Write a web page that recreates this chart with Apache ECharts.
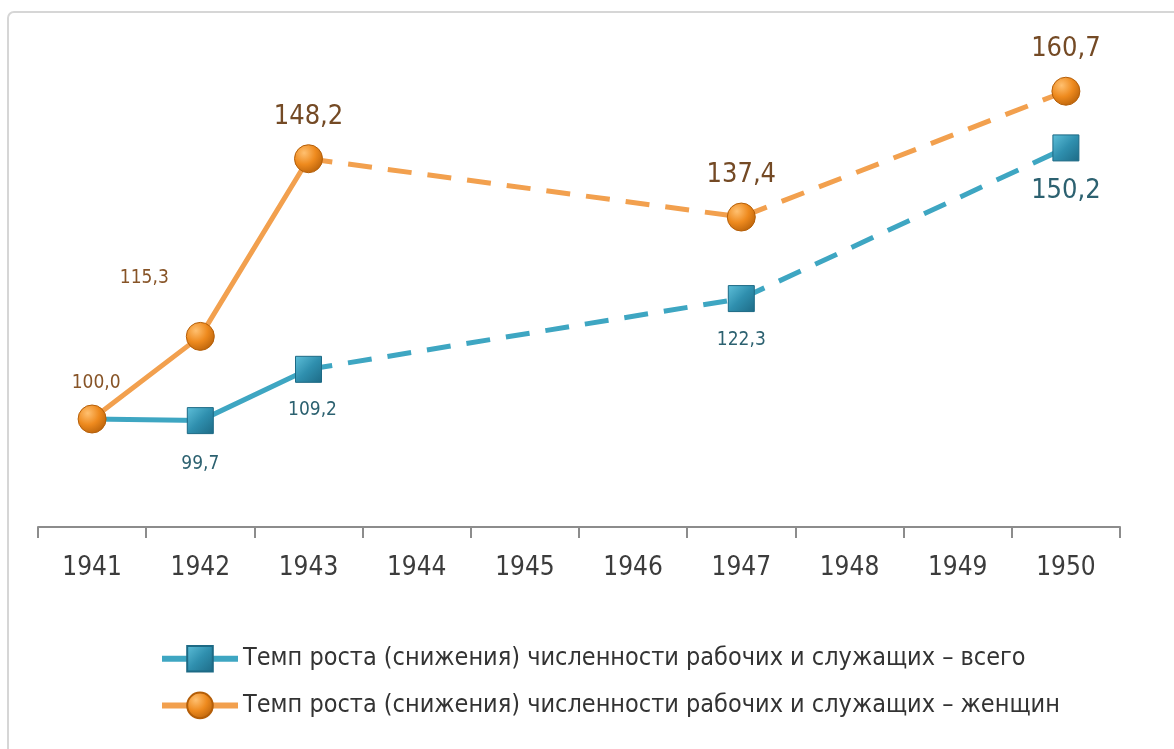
<!DOCTYPE html>
<html>
<head>
<meta charset="utf-8">
<script src="https://cdn.jsdelivr.net/npm/echarts@6/dist/echarts.min.js"></script>
<style>
  html, body { margin: 0; padding: 0; background: #fff; }
  #chart { width: 1174px; height: 749px; }
</style>
</head>
<body>
<div id="chart"></div>
<script>
const years = ["1941", "1942", "1943", "1944", "1945", "1946", "1947", "1948", "1949", "1950"];
// темп роста, % к 1941 г.
const totalValues = [100.0, 99.7, 109.2, null, null, null, 122.3, null, null, 150.2];
const womenValues = [100.0, 115.3, 148.2, null, null, null, 137.4, null, null, 160.7];
const totalName = "Темп роста (снижения) численности рабочих и служащих – всего";
const womenName = "Темп роста (снижения) численности рабочих и служащих – женщин";

const FONT = "'Liberation Sans Narrow', 'DejaVu Sans Condensed', sans-serif";
const BLUE = "#3ea6c2";
const ORANGE = "#f2a04e";
const BLUE_TEXT = "#2c6170";
const ORANGE_TEXT = "#875427";

// solid part up to 1943, dashed after
const LAST_SOLID = 2;
const solidPart = arr => arr.map((v, i) => (i <= LAST_SOLID ? v : null));
const dashedPart = arr => arr.map((v, i) => (i >= LAST_SOLID ? v : null));

const squareColor = new echarts.graphic.LinearGradient(0, 0, 1, 1, [
  { offset: 0, color: "#5fc0da" },
  { offset: 0.5, color: "#2f8fae" },
  { offset: 1, color: "#1d6a85" }
]);
const ballColor = new echarts.graphic.RadialGradient(0.35, 0.3, 0.8, [
  { offset: 0, color: "#ffc070" },
  { offset: 0.5, color: "#ee8a1e" },
  { offset: 1, color: "#b45e08" }
]);

const smallLbl = { fontSize: 19, fontFamily: FONT };
const bigLbl = { fontSize: 27, fontFamily: FONT };

function womenLabel(i) {
  if (i === 0) return { show: true, position: "top", distance: 12, ...smallLbl, offset: [4, 0] };
  if (i === 1) return { show: true, position: "top", distance: 34, ...smallLbl, offset: [-56, 0] };
  return { show: true, position: "top", distance: 14, ...bigLbl, color: "#744a25" };
}
function totalLabel(i) {
  if (i === 0) return { show: false };
  if (i === 9) return { show: true, position: "bottom", distance: 16, ...bigLbl };
  return { show: true, position: "bottom", distance: i === 1 ? 20 : 18, ...smallLbl, offset: i === 2 ? [4, 0] : [0, 0] };
}

function withLabels(arr, labelFn, color) {
  return arr.map((v, i) => (v == null ? null : {
    value: v,
    label: { color: color, formatter: p => p.value.toFixed(1).replace(".", ","), ...labelFn(i) }
  }));
}

const totalSolid = withLabels(solidPart(totalValues), totalLabel, BLUE_TEXT);
// the 1941 square hides under the orange ball
totalSolid[0] = { ...totalSolid[0], symbol: "none" };

const hideJoint = d => (d ? { value: d.value, label: { show: false }, symbol: "none" } : d);
const totalDashed = withLabels(dashedPart(totalValues), totalLabel, BLUE_TEXT);
totalDashed[LAST_SOLID] = hideJoint(totalDashed[LAST_SOLID]);
const womenDashed = withLabels(dashedPart(womenValues), womenLabel, ORANGE_TEXT);
womenDashed[LAST_SOLID] = hideJoint(womenDashed[LAST_SOLID]);

const chart = echarts.init(document.getElementById("chart"));
chart.setOption({
  animation: false,
  graphic: [{
    type: "rect",
    shape: { x: 8, y: 12, width: 1220, height: 800, r: 6 },
    style: { fill: "none", stroke: "#d6d6d6", lineWidth: 2 },
    silent: true,
    z: -1
  }],
  grid: { left: 38, right: 54, top: 41, bottom: 222 },
  legend: {
    orient: "vertical",
    left: 154,
    top: 640,
    itemGap: 19,
    itemWidth: 76,
    itemHeight: 32,
    data: [totalName, womenName],
    lineStyle: { width: 6 },
    textStyle: { fontFamily: FONT, fontSize: 25, color: "#333" }
  },
  xAxis: {
    type: "category",
    data: years,
    boundaryGap: true,
    axisLine: { lineStyle: { color: "#8c8c8c", width: 2 } },
    axisTick: { show: true, length: 11, lineStyle: { color: "#8c8c8c", width: 2 } },
    axisLabel: { margin: 28, fontFamily: FONT, fontSize: 26, color: "#3c3c3c" }
  },
  yAxis: {
    type: "value",
    min: 80,
    max: 170,
    show: false,
    splitLine: { show: false }
  },
  series: [
    {
      name: totalName,
      type: "line",
      data: totalSolid,
      symbol: "rect",
      symbolSize: 26,
      itemStyle: { color: squareColor, borderColor: "#1d6a85", borderWidth: 1 },
      lineStyle: { color: BLUE, width: 5 },
      z: 3
    },
    {
      name: totalName + " (dashed)",
      type: "line",
      data: totalDashed,
      connectNulls: true,
      symbol: "rect",
      symbolSize: 26,
      itemStyle: { color: squareColor, borderColor: "#1d6a85", borderWidth: 1 },
      lineStyle: { color: BLUE, width: 5, type: [24, 16] },
      z: 2
    },
    {
      name: womenName,
      type: "line",
      data: withLabels(solidPart(womenValues), womenLabel, ORANGE_TEXT),
      symbol: "circle",
      symbolSize: 28,
      itemStyle: { color: ballColor, borderColor: "#b45e08", borderWidth: 1 },
      lineStyle: { color: ORANGE, width: 5 },
      z: 5
    },
    {
      name: womenName + " (dashed)",
      type: "line",
      data: womenDashed,
      connectNulls: true,
      symbol: "circle",
      symbolSize: 28,
      itemStyle: { color: ballColor, borderColor: "#b45e08", borderWidth: 1 },
      lineStyle: { color: ORANGE, width: 5, type: [24, 16] },
      z: 4
    }
  ]
});
</script>
</body>
</html>
